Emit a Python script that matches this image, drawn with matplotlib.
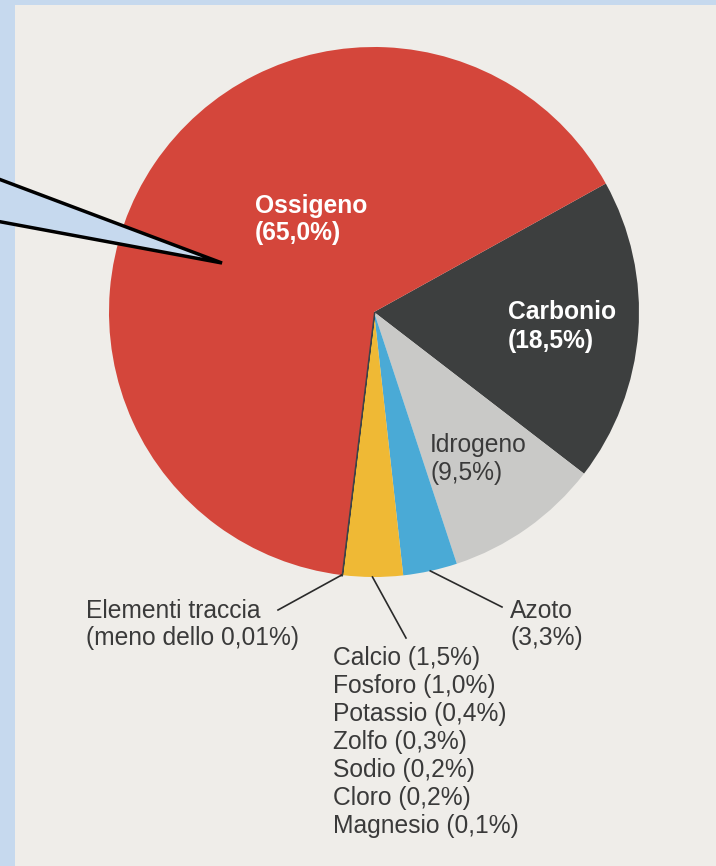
import numpy as np
import matplotlib
matplotlib.use("Agg")
import matplotlib.pyplot as plt
from matplotlib.patches import Rectangle, Polygon

plt.rcParams['font.family'] = ['Liberation Sans', 'DejaVu Sans']

# dati: composizione del corpo umano (% in massa), in senso orario da Carbonio
elementi = ["Carbonio", "Idrogeno", "Azoto", "Altri", "Elementi traccia", "Ossigeno"]
percentuali = [18.5, 9.5, 3.3, 3.7, 0.01, 65.0]
colori = ["#3d3f3f", "#c9c9c7", "#4aaad6", "#efb935", "#3d3f3f", "#d4463b"]

# elementi minori (fetta gialla)
minori = ["Calcio", "Fosforo", "Potassio", "Zolfo", "Sodio", "Cloro", "Magnesio"]
minori_perc = [1.5, 1.0, 0.4, 0.3, 0.2, 0.2, 0.1]

W, H = 716, 866
fig = plt.figure(figsize=(W / 100, H / 100), dpi=100)
fig.patch.set_facecolor("#c6d9ee")
ax = fig.add_axes([0, 0, 1, 1])

# pagina del libro
ax.add_patch(Rectangle((15, 0), W - 15, H - 5, facecolor="#efede9", edgecolor="none", zorder=0))

cx, cy, r = 374, H - 312, 265
start = 29
wedges, _ = ax.pie(percentuali, colors=colori, startangle=start, counterclock=False,
                   center=(cx, cy), radius=r, wedgeprops=dict(linewidth=0))
# la fetta degli elementi traccia e' sottilissima, la evidenzio col bordo
wedges[4].set_edgecolor("#3d4448")
wedges[4].set_linewidth(2)


def it(v, dec=1):
    return f"{v:.{dec}f}".replace(".", ",")


fs = 17.7
col_txt = "#3a3a3a"


def px(x, y):
    return x, H - y


# etichette interne
ax.text(*px(255, 206), "Ossigeno", color="white", fontsize=fs, fontweight="bold", va="center")
ax.text(*px(255, 233), f"({it(percentuali[5])}%)", color="white", fontsize=fs, fontweight="bold", va="center")
ax.text(*px(508, 312), "Carbonio", color="white", fontsize=fs, fontweight="bold", va="center")
ax.text(*px(508, 341), f"({it(percentuali[0])}%)", color="white", fontsize=fs, fontweight="bold", va="center")
ax.text(*px(430, 445), "Idrogeno", color=col_txt, fontsize=fs, va="center")
ax.text(*px(430, 473), f"({it(percentuali[1])}%)", color=col_txt, fontsize=fs, va="center")

# linee di richiamo dal bordo della torta
cum = np.cumsum([0] + percentuali)
def bordo(i):
    ang = np.deg2rad(start - 360 * (cum[i] + percentuali[i] / 2) / sum(percentuali))
    return cx + r * np.cos(ang), cy + r * np.sin(ang)

for i, fine in [(4, (278, 610)), (3, (406, 638)), (2, (502, 607))]:
    x0, y0 = bordo(i)
    x1, y1 = px(*fine)
    ax.plot([x0, x1], [y0, y1], color="#2a2a2a", lw=1.2, zorder=3)

ax.text(*px(86, 611), "Elementi traccia", color=col_txt, fontsize=fs, va="center")
ax.text(*px(86, 638), "(meno dello 0,01%)", color=col_txt, fontsize=fs, va="center")
ax.text(*px(510, 611), "Azoto", color=col_txt, fontsize=fs, va="center")
ax.text(*px(510, 638), f"({it(percentuali[2])}%)", color=col_txt, fontsize=fs, va="center")

for k, (nome, p) in enumerate(zip(minori, minori_perc)):
    ax.text(*px(333, 658 + 28 * k), f"{nome} ({it(p)}%)", color=col_txt, fontsize=fs, va="center")

# fumetto azzurro a sinistra (il lato sinistro esce dall'immagine)
ax.add_patch(Polygon([px(-20, 172), px(222, 263), px(-20, 218)], closed=True,
                     facecolor="#c6d9ee", edgecolor="black", lw=2.5, zorder=4))

ax.set_xlim(0, W)
ax.set_ylim(0, H)
ax.set_aspect("auto")
ax.axis("off")

fig.savefig("out.png", dpi=100, facecolor=fig.get_facecolor())
